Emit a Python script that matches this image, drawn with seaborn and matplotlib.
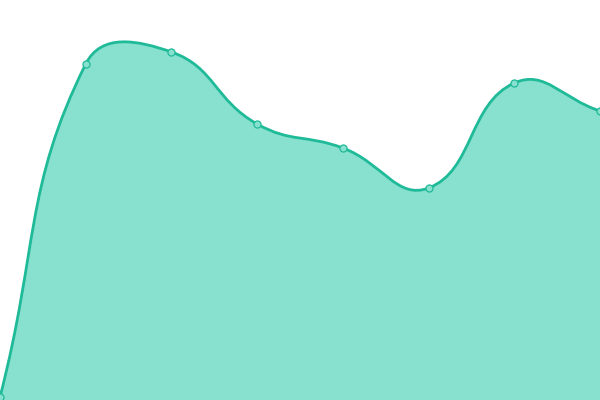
import numpy as np
import pandas as pd
import seaborn as sns
import matplotlib
matplotlib.use("Agg")
import matplotlib.pyplot as plt
from matplotlib.path import Path
from matplotlib.patches import PathPatch

categories = ["A", "B", "C", "D", "E", "F", "G", "H"]
values = [3, 336, 348, 276, 252, 212, 317, 289]

LINE = "#1fba98"
FILL = "#88e0cf"

sns.set_theme(style="white")
fig = plt.figure(figsize=(6, 4), dpi=100)
ax = fig.add_axes([0, 0, 1, 1])
ax.set_xlim(0, len(categories) - 1)
ax.set_ylim(0, 400)
ax.set_axis_off()

df = pd.DataFrame({"cat": np.arange(len(categories)), "val": values})
pts = df[["cat", "val"]].to_numpy(dtype=float)
disp = ax.transData.transform(pts)

smooth = 0.45
n = len(disp)
cps0, cps1 = [], []
for i in range(n):
    p = disp[i]
    prev = disp[i - 1] if i > 0 else p
    nxt = disp[i + 1] if i < n - 1 else p
    v = nxt - prev
    d0 = np.hypot(*(p - prev))
    d1 = np.hypot(*(p - nxt))
    s = d0 + d1
    d0 /= s
    d1 /= s
    cps0.append(p - v * smooth * d0)
    cps1.append(p + v * smooth * d1)

verts = [disp[0]]
codes = [Path.MOVETO]
for i in range(n - 1):
    verts += [cps1[i], cps0[i + 1], disp[i + 1]]
    codes += [Path.CURVE4] * 3
verts = ax.transData.inverted().transform(np.array(verts))

line_path = Path(verts, codes)
fill_verts = np.vstack([verts, [[pts[-1, 0], 0], [pts[0, 0], 0], verts[0]]])
fill_codes = codes + [Path.LINETO, Path.LINETO, Path.CLOSEPOLY]
ax.add_patch(PathPatch(Path(fill_verts, fill_codes), facecolor=FILL, edgecolor="none", zorder=1))
ax.add_patch(PathPatch(line_path, facecolor="none", edgecolor=LINE, lw=2.0,
                       capstyle="round", joinstyle="round", zorder=2))

sns.scatterplot(data=df, x="cat", y="val", ax=ax, s=26, color=FILL,
                edgecolor=LINE, linewidth=0.9, zorder=3, legend=False)
ax.set_xlim(0, len(categories) - 1)
ax.set_ylim(0, 400)
ax.set_axis_off()

fig.savefig("out.png", dpi=100)
